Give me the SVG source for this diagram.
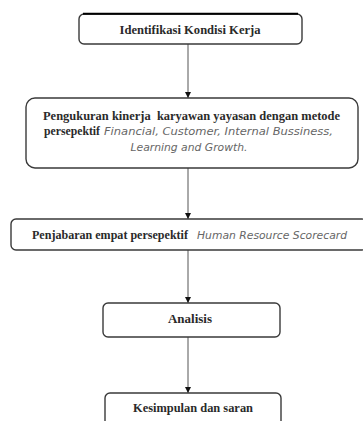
<svg xmlns="http://www.w3.org/2000/svg" width="363" height="421" viewBox="0 0 363 421">
  <defs>
    <marker id="arr" markerUnits="userSpaceOnUse" markerWidth="7" markerHeight="7" refX="6" refY="3.5" orient="auto">
      <path d="M0,0.5 L6,3.5 L0,6.5 Z" fill="#111"/>
    </marker>
    <style>
      .box { fill: #ffffff; stroke: #3a3a3a; stroke-width: 1.4; }
      .b { font-family: "Liberation Serif", "Times New Roman", serif; font-size: 12px; font-weight: bold; fill: #2a2a2a; }
      .i { font-family: "DejaVu Sans", Verdana, sans-serif; font-size: 10.5px; font-style: italic; fill: #666666; }
      .conn { stroke: #555555; stroke-width: 1; fill: none; marker-end: url(#arr); }
    </style>
  </defs>
  <rect width="363" height="421" fill="#ffffff"/>

  <g id="connectors">
    <line class="conn" x1="188" y1="44" x2="188" y2="98"/>
    <line class="conn" x1="188" y1="168" x2="188" y2="219"/>
    <line class="conn" x1="188" y1="250" x2="188" y2="303"/>
    <line class="conn" x1="188" y1="337" x2="188" y2="393"/>
  </g>

  <g id="node1">
    <rect class="box" x="79" y="14" width="223" height="30" rx="5"/>
    <line x1="83" y1="13.8" x2="298" y2="13.8" stroke="#000" stroke-width="2"/>
    <text class="b" x="190" y="34" text-anchor="middle" textLength="141" lengthAdjust="spacingAndGlyphs">Identifikasi Kondisi Kerja</text>
  </g>

  <g id="node2">
    <rect class="box" x="26" y="98" width="332" height="70" rx="9"/>
    <text class="b" x="43" y="120" xml:space="preserve" textLength="297" lengthAdjust="spacingAndGlyphs">Pengukuran kinerja  karyawan yayasan dengan metode</text>
    <text class="b" x="44" y="135" textLength="56" lengthAdjust="spacingAndGlyphs">persepektif</text>
    <text class="i" x="104" y="135" textLength="229" lengthAdjust="spacingAndGlyphs">Financial, Customer, Internal Bussiness,</text>
    <text class="i" x="189" y="151" text-anchor="middle" textLength="117" lengthAdjust="spacingAndGlyphs">Learning and Growth.</text>
  </g>

  <g id="node3">
    <rect class="box" x="11" y="219" width="356" height="31" rx="5"/>
    <text class="b" x="32" y="239" textLength="156" lengthAdjust="spacingAndGlyphs">Penjabaran empat persepektif</text>
    <text class="i" x="197" y="239" textLength="150" lengthAdjust="spacingAndGlyphs">Human Resource Scorecard</text>
  </g>

  <g id="node4">
    <rect class="box" x="103" y="303" width="177" height="34" rx="5"/>
    <text class="b" x="190" y="323" text-anchor="middle" textLength="44" lengthAdjust="spacingAndGlyphs">Analisis</text>
  </g>

  <g id="node5">
    <rect class="box" x="105" y="393" width="176" height="40" rx="5"/>
    <text class="b" x="193" y="412" text-anchor="middle" textLength="120" lengthAdjust="spacingAndGlyphs">Kesimpulan dan saran</text>
  </g>
</svg>
